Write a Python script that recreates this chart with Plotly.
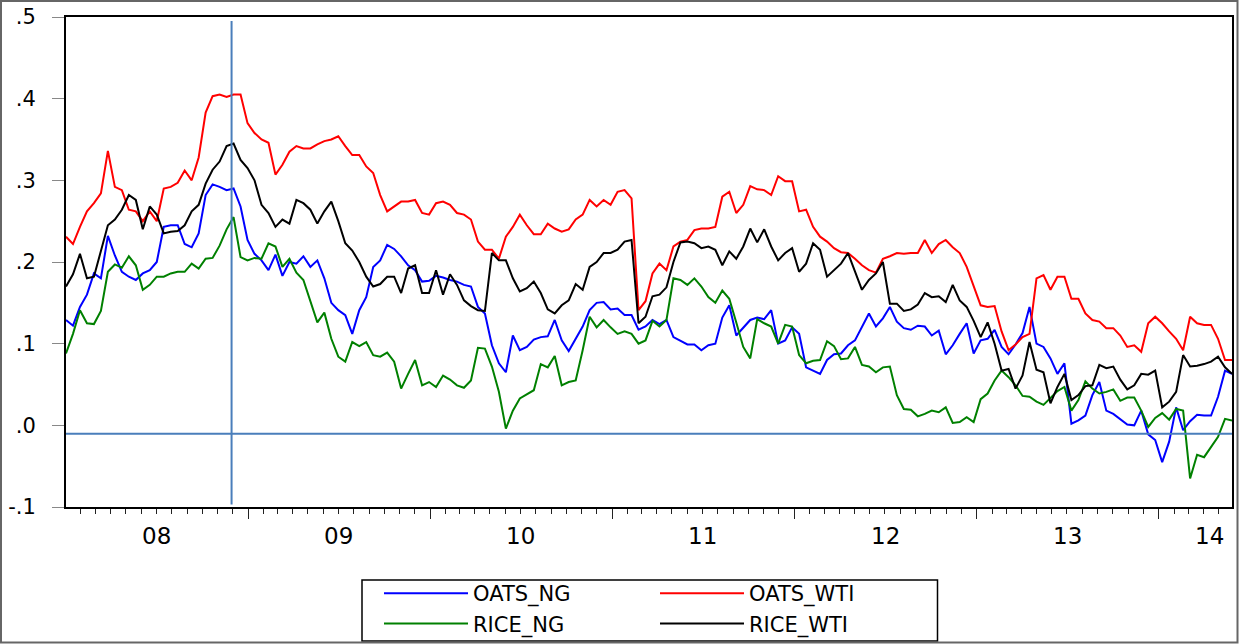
import pandas as pd
import plotly.graph_objects as go

# ---------------- data ----------------
dates = pd.date_range("2008-01-02", periods=168, freq="14D")

oats_ng = [
    0.129, 0.122, 0.145, 0.160, 0.186, 0.180, 0.232, 0.208, 0.188, 0.182,
    0.178, 0.186, 0.190, 0.200, 0.243, 0.245, 0.245, 0.222, 0.218, 0.235,
    0.282, 0.295, 0.292, 0.288, 0.290, 0.268, 0.227, 0.210, 0.202, 0.190,
    0.209, 0.183, 0.200, 0.198, 0.207, 0.194, 0.202, 0.180, 0.150, 0.141,
    0.135, 0.112, 0.141, 0.157, 0.194, 0.202, 0.221, 0.216, 0.207, 0.196,
    0.190, 0.176, 0.177, 0.183, 0.181, 0.178, 0.176, 0.172, 0.170, 0.145,
    0.137, 0.098, 0.076, 0.065, 0.110, 0.092, 0.096, 0.105, 0.108, 0.109,
    0.129, 0.104, 0.091, 0.106, 0.121, 0.141, 0.150, 0.151, 0.142, 0.143,
    0.135, 0.135, 0.117, 0.121, 0.129, 0.124, 0.129, 0.108, 0.104, 0.099,
    0.099, 0.092, 0.098, 0.100, 0.132, 0.147, 0.110, 0.119, 0.129, 0.132,
    0.130, 0.141, 0.100, 0.104, 0.120, 0.112, 0.071, 0.067, 0.063, 0.080,
    0.087, 0.088, 0.098, 0.104, 0.121, 0.137, 0.121, 0.131, 0.145, 0.127,
    0.119, 0.117, 0.122, 0.121, 0.110, 0.116, 0.087, 0.098, 0.112, 0.125,
    0.088, 0.104, 0.106, 0.117, 0.096, 0.087, 0.099, 0.113, 0.145, 0.100,
    0.096, 0.082, 0.063, 0.076, 0.002, 0.006, 0.012, 0.037, 0.053, 0.018,
    0.014, 0.007, 0.001, 0.000, 0.018, -0.011, -0.018, -0.045, -0.020, 0.022,
    -0.006, 0.005, 0.013, 0.012, 0.012, 0.035, 0.067, 0.063,
]

oats_wti = [
    0.231, 0.222, 0.243, 0.262, 0.272, 0.284, 0.336, 0.292, 0.288, 0.264,
    0.262, 0.250, 0.262, 0.250, 0.290, 0.292, 0.297, 0.312, 0.300, 0.328,
    0.383, 0.403, 0.405, 0.402, 0.405, 0.405, 0.370, 0.358, 0.350, 0.346,
    0.307, 0.319, 0.335, 0.342, 0.339, 0.339, 0.344, 0.348, 0.350, 0.354,
    0.342, 0.331, 0.331, 0.317, 0.309, 0.282, 0.262, 0.268, 0.274, 0.274,
    0.276, 0.260, 0.258, 0.272, 0.274, 0.270, 0.260, 0.258, 0.252, 0.225,
    0.215, 0.215, 0.204, 0.231, 0.243, 0.258, 0.245, 0.234, 0.234, 0.247,
    0.241, 0.237, 0.240, 0.252, 0.258, 0.276, 0.268, 0.276, 0.270, 0.286,
    0.288, 0.278, 0.141, 0.152, 0.186, 0.198, 0.190, 0.219, 0.225, 0.227,
    0.239, 0.241, 0.241, 0.243, 0.280, 0.286, 0.260, 0.270, 0.293, 0.289,
    0.288, 0.282, 0.305, 0.299, 0.299, 0.262, 0.264, 0.243, 0.231, 0.225,
    0.217, 0.212, 0.211, 0.204, 0.196, 0.190, 0.187, 0.204, 0.207, 0.211,
    0.210, 0.211, 0.211, 0.227, 0.211, 0.222, 0.227, 0.218, 0.211, 0.194,
    0.170, 0.147, 0.145, 0.146, 0.115, 0.092, 0.099, 0.108, 0.112, 0.180,
    0.184, 0.166, 0.182, 0.182, 0.155, 0.155, 0.137, 0.129, 0.127, 0.119,
    0.119, 0.110, 0.096, 0.098, 0.090, 0.125, 0.133, 0.125, 0.115, 0.106,
    0.092, 0.133, 0.125, 0.123, 0.123, 0.106, 0.080, 0.080,
]

rice_ng = [
    0.088, 0.112, 0.141, 0.125, 0.124, 0.140, 0.188, 0.197, 0.193, 0.207,
    0.196, 0.166, 0.172, 0.182, 0.182, 0.186, 0.188, 0.188, 0.198, 0.192,
    0.204, 0.205, 0.220, 0.240, 0.255, 0.206, 0.202, 0.205, 0.204, 0.223,
    0.219, 0.194, 0.204, 0.187, 0.178, 0.151, 0.126, 0.138, 0.106, 0.084,
    0.078, 0.102, 0.097, 0.102, 0.086, 0.084, 0.089, 0.078, 0.045, 0.063,
    0.080, 0.049, 0.053, 0.047, 0.061, 0.056, 0.049, 0.046, 0.055, 0.095,
    0.094, 0.072, 0.041, -0.004, 0.018, 0.033, 0.038, 0.043, 0.075, 0.071,
    0.085, 0.049, 0.053, 0.055, 0.092, 0.133, 0.120, 0.129, 0.120, 0.112,
    0.115, 0.112, 0.100, 0.104, 0.128, 0.121, 0.129, 0.180, 0.178, 0.172,
    0.180, 0.170, 0.157, 0.150, 0.165, 0.155, 0.126, 0.096, 0.082, 0.130,
    0.125, 0.121, 0.100, 0.123, 0.121, 0.086, 0.076, 0.079, 0.080, 0.103,
    0.097, 0.081, 0.082, 0.096, 0.074, 0.072, 0.065, 0.071, 0.072, 0.037,
    0.020, 0.019, 0.011, 0.014, 0.018, 0.016, 0.022, 0.003, 0.004, 0.010,
    0.004, 0.032, 0.039, 0.055, 0.067, 0.059, 0.049, 0.036, 0.035, 0.029,
    0.025, 0.033, 0.042, 0.047, 0.018, 0.031, 0.054, 0.045, 0.039, 0.041,
    0.044, 0.030, 0.034, 0.034, 0.018, -0.002, 0.009, 0.015, 0.007, 0.020,
    0.018, -0.065, -0.036, -0.039, -0.027, -0.014, 0.008, 0.006,
]

rice_wti = [
    0.170, 0.185, 0.210, 0.180, 0.182, 0.215, 0.245, 0.252, 0.264, 0.282,
    0.276, 0.240, 0.268, 0.258, 0.235, 0.237, 0.238, 0.245, 0.262, 0.270,
    0.296, 0.313, 0.323, 0.342, 0.345, 0.325, 0.315, 0.300, 0.270, 0.260,
    0.243, 0.252, 0.247, 0.276, 0.272, 0.264, 0.247, 0.262, 0.274, 0.250,
    0.223, 0.214, 0.200, 0.182, 0.170, 0.173, 0.182, 0.182, 0.162, 0.192,
    0.196, 0.162, 0.162, 0.190, 0.160, 0.185, 0.172, 0.153, 0.146, 0.141,
    0.140, 0.211, 0.202, 0.202, 0.180, 0.164, 0.168, 0.176, 0.162, 0.142,
    0.137, 0.147, 0.153, 0.173, 0.166, 0.194, 0.200, 0.211, 0.211, 0.215,
    0.225, 0.227, 0.125, 0.133, 0.158, 0.160, 0.169, 0.200, 0.224, 0.225,
    0.223, 0.217, 0.219, 0.215, 0.196, 0.213, 0.204, 0.219, 0.241, 0.224,
    0.240, 0.219, 0.202, 0.211, 0.217, 0.188, 0.198, 0.223, 0.215, 0.182,
    0.190, 0.198, 0.211, 0.188, 0.166, 0.178, 0.186, 0.200, 0.149, 0.149,
    0.140, 0.142, 0.148, 0.162, 0.157, 0.158, 0.151, 0.172, 0.153, 0.145,
    0.128, 0.108, 0.126, 0.100, 0.067, 0.069, 0.045, 0.061, 0.102, 0.068,
    0.065, 0.027, 0.047, 0.063, 0.031, 0.037, 0.048, 0.049, 0.074, 0.070,
    0.072, 0.056, 0.044, 0.049, 0.063, 0.062, 0.067, 0.022, 0.029, 0.041,
    0.086, 0.072, 0.073, 0.075, 0.078, 0.084, 0.071, 0.063,
]

year_labels = ["08", "09", "10", "11", "12", "13", "14"]
year_label_dates = ["2008-07-02", "2009-07-02", "2010-07-02", "2011-07-02",
                    "2012-07-02", "2013-07-02", "2014-04-12"]
y_tick_vals = [-0.1, 0.0, 0.1, 0.2, 0.3, 0.4, 0.5]
y_tick_text = ["-.1", ".0", ".1", ".2", ".3", ".4", ".5"]
x_range = ["2008-01-02", "2014-05-28"]
event_date = "2008-11-29"
ref_level = -0.0102

# ---------------- figure ----------------
W, H = 1239, 644
ML, MR, MT, MB = 66, 7, 17, 137
PW, PH = W - ML - MR, H - MT - MB


def px_x(p):
    return (p - ML) / PW


def px_y(p):
    return (H - MB - p) / PH


FONT = "DejaVu Sans"
fig = go.Figure()
series = [
    ("OATS_NG", oats_ng, "#0000FF", "legend"),
    ("OATS_WTI", oats_wti, "#FF0000", "legend2"),
    ("RICE_NG", rice_ng, "#008000", "legend"),
    ("RICE_WTI", rice_wti, "#000000", "legend2"),
]
for name, vals, col, lg in series:
    fig.add_trace(go.Scatter(x=dates, y=vals, mode="lines", name=name,
                             line=dict(color=col, width=2), legend=lg))

shapes = [
    # reference lines
    dict(type="line", xref="paper", yref="y", x0=0, x1=1, y0=ref_level, y1=ref_level,
         line=dict(color="#4A7EBB", width=2)),
    dict(type="line", xref="x", yref="y", x0=event_date, x1=event_date, y0=-0.097, y1=0.495,
         line=dict(color="#4A7EBB", width=2)),
    # legend box
    dict(type="rect", xref="paper", yref="paper", x0=px_x(362), x1=px_x(937.5),
         y0=px_y(641), y1=px_y(580), line=dict(color="black", width=1.5)),
    # outer frame
    dict(type="rect", xref="paper", yref="paper", x0=px_x(1), x1=px_x(1237.5),
         y0=px_y(642.5), y1=px_y(1), line=dict(color="#666666", width=2)),
]

annotations = [
    dict(x=d, y=px_y(536), xref="x", yref="paper", text=t, showarrow=False,
         xanchor="center", yanchor="middle", font=dict(family=FONT, size=23, color="black"))
    for d, t in zip(year_label_dates, year_labels)
]

leg_common = dict(xref="container", yref="container", xanchor="left", yanchor="top",
                  bgcolor="rgba(0,0,0,0)", borderwidth=0, itemwidth=84,
                  font=dict(family=FONT, size=21, color="black"), orientation="v")

fig.update_layout(
    width=W, height=H,
    margin=dict(l=ML, r=MR, t=MT, b=MB, autoexpand=False),
    paper_bgcolor="white", plot_bgcolor="white",
    showlegend=True,
    legend=dict(x=379 / W, y=1 - 573 / H, **leg_common),
    legend2=dict(x=655 / W, y=1 - 573 / H, **leg_common),
    xaxis=dict(type="date", range=x_range, showline=True, linecolor="black", linewidth=2,
               mirror=True, showgrid=False, zeroline=False,
               ticks="outside", tickmode="linear", tick0="2008-01-01", dtick="M12",
               ticklen=10, tickwidth=1, tickcolor="#222222", showticklabels=False,
               minor=dict(ticks="outside", tickmode="linear", tick0="2008-01-01", dtick="M1",
                          ticklen=5, tickwidth=1, tickcolor="#222222", showgrid=False)),
    yaxis=dict(range=[-0.1, 0.5], tickmode="array", tickvals=y_tick_vals, ticktext=y_tick_text,
               showline=True, linecolor="black", linewidth=2, mirror=True,
               showgrid=False, zeroline=False, ticks="outside", ticklen=12, tickwidth=1,
               tickcolor="#888888", ticklabelstandoff=12,
               tickfont=dict(family=FONT, size=21, color="black")),
    shapes=shapes,
    annotations=annotations,
)

fig.write_html("out.html")
